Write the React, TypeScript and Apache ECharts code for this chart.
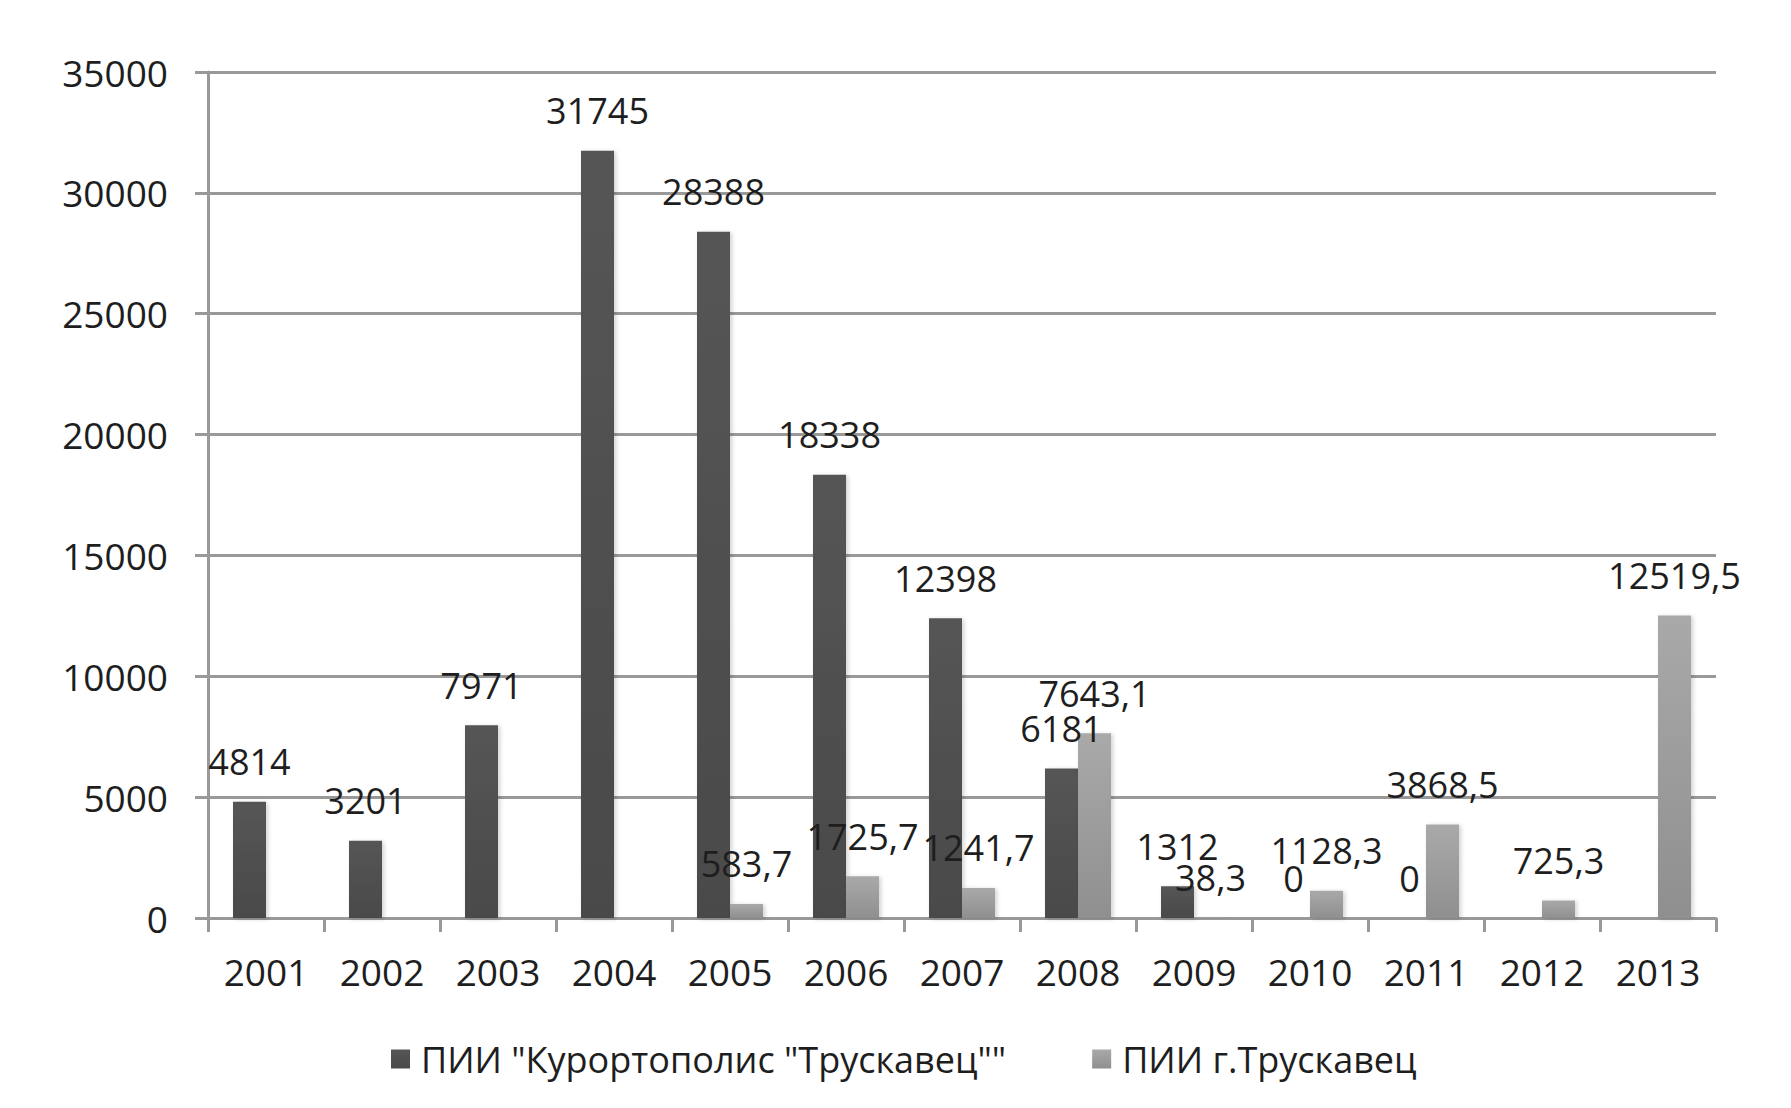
import React, { useEffect, useRef } from "react";
import * as echarts from "echarts";

const years = ["2001", "2002", "2003", "2004", "2005", "2006", "2007", "2008", "2009", "2010", "2011", "2012", "2013"];
const seriesNames = ['ПИИ "Курортополис "Трускавец""', "ПИИ г.Трускавец"];
const resortValues = [4814, 3201, 7971, 31745, 28388, 18338, 12398, 6181, 1312, 0, 0, null, null];
const cityValues = [null, null, null, null, 583.7, 1725.7, 1241.7, 7643.1, 38.3, 1128.3, 3868.5, 725.3, 12519.5];
const yMax = 35000;
const yInterval = 5000;

const FONT = "Open Sans";
const FS = 36;

export default function App() {
  const ref = useRef<HTMLDivElement>(null);
  useEffect(() => {
    if (!ref.current) return;
    const chart = echarts.init(ref.current, null, { renderer: "svg" });
    const labelFmt = (p: any) =>
      p.value === null || p.value === undefined ? "" : String(p.value).replace(".", ",");
    const darkColor = new echarts.graphic.LinearGradient(0, 0, 0, 1, [
      { offset: 0, color: "#555555" },
      { offset: 1, color: "#4a4a4a" },
    ]);
    const lightColor = new echarts.graphic.LinearGradient(0, 0, 0, 1, [
      { offset: 0, color: "#a9a9a9" },
      { offset: 1, color: "#8f8f8f" },
    ]);
    const labelCommon = {
      show: true,
      position: "top" as const,
      distance: 22,
      fontFamily: FONT,
      fontSize: FS,
      color: "#1e1e1e",
      formatter: labelFmt,
    };
    chart.setOption({
      animation: false,
      backgroundColor: "#ffffff",
      textStyle: { fontFamily: FONT },
      grid: { left: 208, right: 75, top: 72, bottom: 190, containLabel: false },
      legend: {
        left: 386,
        top: 1036,
        itemWidth: 19,
        itemHeight: 19,
        itemGap: 86,
        icon: "rect",
        textStyle: { fontFamily: FONT, fontSize: FS, color: "#1e1e1e", padding: [0, 0, 0, 6] },
        data: seriesNames,
      },
      xAxis: {
        type: "category",
        data: years,
        axisLine: { show: true, lineStyle: { color: "#999999", width: 3 } },
        axisTick: { show: true, alignWithLabel: false, length: 14, lineStyle: { color: "#999999", width: 3 } },
        axisLabel: { fontFamily: FONT, fontSize: FS + 1, color: "#1e1e1e", margin: 35 },
        splitLine: { show: false },
      },
      yAxis: {
        type: "value",
        min: 0,
        max: yMax,
        interval: yInterval,
        axisLine: { show: true, lineStyle: { color: "#999999", width: 3 } },
        axisTick: { show: true, length: 13, lineStyle: { color: "#999999", width: 3 } },
        axisLabel: {
          fontFamily: FONT,
          fontSize: FS + 1,
          color: "#1e1e1e",
          margin: 40,
          formatter: (v: number) => String(v),
        },
        splitLine: { show: true, lineStyle: { color: "#999999", width: 3 } },
      },
      series: [
        {
          name: seriesNames[0],
          type: "bar",
          data: resortValues,
          barWidth: 33,
          barGap: "0%",
          itemStyle: {
            color: darkColor,
            shadowColor: "rgba(0,0,0,0.18)",
            shadowBlur: 4,
            shadowOffsetX: 2,
            shadowOffsetY: 1,
          },
          label: labelCommon,
        },
        {
          name: seriesNames[1],
          type: "bar",
          data: cityValues,
          barWidth: 33,
          barGap: "0%",
          itemStyle: {
            color: lightColor,
            shadowColor: "rgba(0,0,0,0.18)",
            shadowBlur: 4,
            shadowOffsetX: 2,
            shadowOffsetY: 1,
          },
          label: labelCommon,
        },
      ],
    });
    return () => chart.dispose();
  }, []);
  return (
    <div
      ref={ref}
      style={{ position: "absolute", left: 0, top: 0, width: 1791, height: 1108, background: "#fff" }}
    />
  );
}
